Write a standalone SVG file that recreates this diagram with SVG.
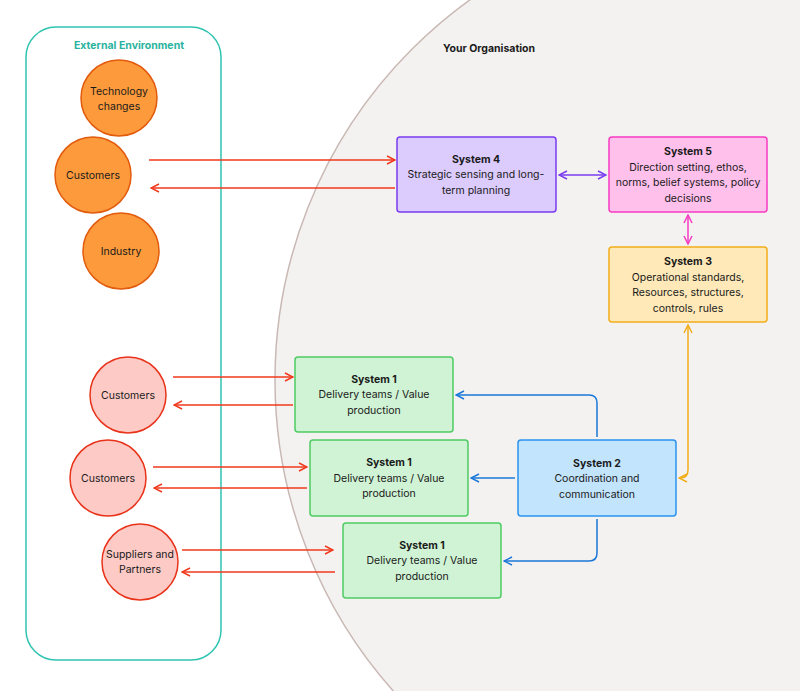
<svg xmlns="http://www.w3.org/2000/svg" width="800" height="691" viewBox="0 0 800 691">
<defs>
<marker id="ar" viewBox="0 0 10 10" refX="9" refY="5" markerWidth="10" markerHeight="10" markerUnits="userSpaceOnUse" orient="auto-start-reverse"><path d="M1,1 L9,5 L1,9" fill="none" stroke="context-stroke" stroke-width="1.5"/></marker>
<style>
text{font-family:Inter,"Liberation Sans",sans-serif;font-size:10.5px;fill:#1a1a1a;text-anchor:middle}
.b{font-weight:bold}
.c{fill:none;stroke-width:1.5}
</style>
</defs>
<rect width="800" height="691" fill="#fff"/>
<circle cx="743" cy="380" r="468" fill="#f4f2f0" stroke="#c9b9b5" stroke-width="1.5"/>
<rect x="26" y="27" width="195" height="633" rx="30" fill="none" stroke="#2ec4b0" stroke-width="1.5"/>
<text x="129" y="49" class="b" style="fill:#2ab3a0">External Environment</text>
<text x="489" y="52" class="b">Your Organisation</text>
<g id="tech"><circle cx="119" cy="98" r="38" fill="#fd9b3c" stroke="#e25a0c" stroke-width="1.5"/><text x="119" y="95">Technology</text><text x="119" y="110">changes</text></g>
<g id="cust1"><circle cx="93" cy="175" r="38" fill="#fd9b3c" stroke="#e25a0c" stroke-width="1.5"/><text x="93" y="179">Customers</text></g>
<g id="industry"><circle cx="121" cy="251" r="38" fill="#fd9b3c" stroke="#e25a0c" stroke-width="1.5"/><text x="121" y="255">Industry</text></g>
<g id="cust2"><circle cx="128" cy="395" r="38" fill="#fdcac6" stroke="#e8331a" stroke-width="1.5"/><text x="128" y="399">Customers</text></g>
<g id="cust3"><circle cx="108" cy="478" r="38" fill="#fdcac6" stroke="#e8331a" stroke-width="1.5"/><text x="108" y="482">Customers</text></g>
<g id="supp"><circle cx="140" cy="562" r="38" fill="#fdcac6" stroke="#e8331a" stroke-width="1.5"/><text x="140" y="558">Suppliers and</text><text x="140" y="573">Partners</text></g>
<g id="s4"><rect x="397" y="137" width="159" height="75" rx="3" fill="#dccbfd" stroke="#7a3cf0" stroke-width="1.5"/><text x="476" y="163" class="b">System 4</text><text x="476" y="178">Strategic sensing and long-</text><text x="476" y="194">term planning</text></g>
<g id="s5"><rect x="609" y="137" width="158" height="75" rx="3" fill="#ffc0ec" stroke="#f53cc3" stroke-width="1.5"/><text x="688" y="155" class="b">System 5</text><text x="688" y="171">Direction setting, ethos,</text><text x="688" y="186">norms, belief systems, policy</text><text x="688" y="202">decisions</text></g>
<g id="s3"><rect x="609" y="247" width="158" height="75" rx="3" fill="#ffe9b8" stroke="#f2ad1b" stroke-width="1.5"/><text x="688" y="265" class="b">System 3</text><text x="688" y="281">Operational standards,</text><text x="688" y="296">Resources, structures,</text><text x="688" y="312">controls, rules</text></g>
<g id="s2"><rect x="518" y="440" width="158" height="76" rx="3" fill="#c2e4fd" stroke="#2a92ee" stroke-width="1.5"/><text x="597" y="467" class="b">System 2</text><text x="597" y="482">Coordination and</text><text x="597" y="498">communication</text></g>
<g id="s1a"><rect x="295" y="357" width="158" height="75" rx="3" fill="#cff3d4" stroke="#4fcc63" stroke-width="1.5"/><text x="374" y="383" class="b">System 1</text><text x="374" y="398">Delivery teams / Value</text><text x="374" y="414">production</text></g>
<g id="s1b"><rect x="310" y="440" width="158" height="76" rx="3" fill="#cff3d4" stroke="#4fcc63" stroke-width="1.5"/><text x="389" y="466" class="b">System 1</text><text x="389" y="482">Delivery teams / Value</text><text x="389" y="497">production</text></g>
<g id="s1c"><rect x="343" y="523" width="158" height="75" rx="3" fill="#cff3d4" stroke="#4fcc63" stroke-width="1.5"/><text x="422" y="549" class="b">System 1</text><text x="422" y="564">Delivery teams / Value</text><text x="422" y="580">production</text></g>
<g id="connectors">
<path class="c" stroke="#f0391d" marker-end="url(#ar)" d="M149,160 H395"/>
<path class="c" stroke="#f0391d" marker-end="url(#ar)" d="M395,188 H151"/>
<path class="c" stroke="#f0391d" marker-end="url(#ar)" d="M173,377 H293"/>
<path class="c" stroke="#f0391d" marker-end="url(#ar)" d="M293,405 H174"/>
<path class="c" stroke="#f0391d" marker-end="url(#ar)" d="M153,467 H307"/>
<path class="c" stroke="#f0391d" marker-end="url(#ar)" d="M307,488 H154"/>
<path class="c" stroke="#f0391d" marker-end="url(#ar)" d="M182,550 H333"/>
<path class="c" stroke="#f0391d" marker-end="url(#ar)" d="M335,572 H182"/>
<path class="c" stroke="#7a3cf0" marker-start="url(#ar)" marker-end="url(#ar)" d="M559,175 H606"/>
<path class="c" stroke="#f53cc3" marker-start="url(#ar)" marker-end="url(#ar)" d="M688,215 V244"/>
<path class="c" stroke="#f2ad1b" marker-start="url(#ar)" marker-end="url(#ar)" d="M688,325 V470 Q688,478 680,478 H679"/>
<path class="c" stroke="#1a78d8" marker-end="url(#ar)" d="M597,437 V403 Q597,395 589,395 H456"/>
<path class="c" stroke="#1a78d8" marker-end="url(#ar)" d="M515,478 H471"/>
<path class="c" stroke="#1a78d8" marker-end="url(#ar)" d="M597,519 V553 Q597,561 589,561 H504"/>
</g>
</svg>
